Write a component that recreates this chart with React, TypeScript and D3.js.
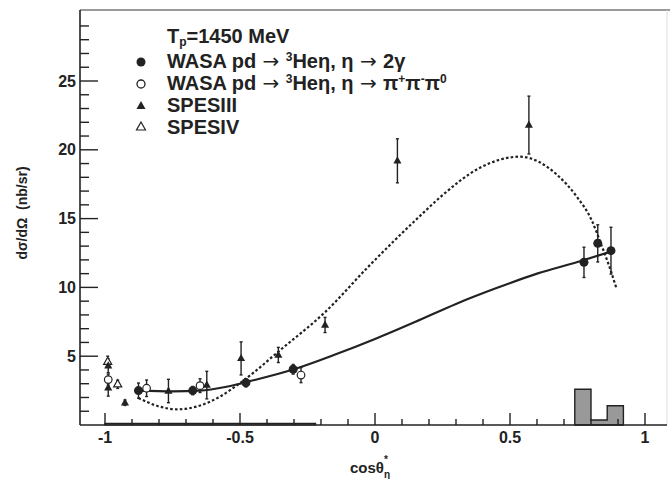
import * as d3 from 'd3';

// WASA pd -> 3He eta, eta -> 2 gamma (filled circles)
const wasa2g: [number, number, number][] = [
  [-0.876, 2.5, 0.55],
  [-0.675, 2.5, 0.3],
  [-0.478, 3.07, 0.3],
  [-0.303, 4.05, 0.35],
  [0.774, 11.82, 1.1],
  [0.825, 13.2, 1.35],
  [0.874, 12.67, 1.7],
];
// WASA pd -> 3He eta, eta -> pi+ pi- pi0 (open circles)
const wasa3pi: [number, number, number][] = [
  [-0.846, 2.67, 0.6],
  [-0.648, 2.86, 0.5],
  [-0.274, 3.63, 0.55],
  [-0.988, 3.3, 0.4],
];
// SPESIII (filled triangles)
const spes3: [number, number, number][] = [
  [-0.988, 4.3, 0.5],
  [-0.988, 2.7, 0.6],
  [-0.926, 1.62, 0.2],
  [-0.765, 2.47, 0.85],
  [-0.623, 2.9, 1.0],
  [-0.496, 4.84, 1.2],
  [-0.358, 5.09, 0.55],
  [-0.185, 7.27, 0.55],
  [0.083, 19.2, 1.6],
  [0.57, 21.8, 2.1],
];
// SPESIV (open triangles)
const spes4: [number, number, number][] = [
  [-0.99, 4.6, 0.4],
  [-0.953, 2.96, 0.3],
];

// fit curves
const solidFit: [number, number][] = [
  [-0.876, 2.5], [-0.75, 2.45], [-0.65, 2.5], [-0.55, 2.78], [-0.45, 3.25],
  [-0.3, 4.05], [-0.15, 5.1], [0.0, 6.25], [0.15, 7.5], [0.3, 8.8],
  [0.45, 9.95], [0.6, 11.0], [0.75, 11.85], [0.874, 12.6],
];
const dashedFit: [number, number][] = [
  [-0.876, 1.96], [-0.8, 1.35], [-0.734, 1.14], [-0.65, 1.4], [-0.58, 2.0],
  [-0.51, 2.9], [-0.45, 3.8], [-0.36, 5.3], [-0.185, 8.2], [-0.02, 11.6],
  [0.167, 15.2], [0.25, 16.7], [0.389, 18.7], [0.537, 19.5], [0.673, 18.2],
  [0.747, 16.6], [0.802, 14.9], [0.84, 13.0], [0.87, 11.4], [0.893, 10.0],
];

// histogram (bin width 0.06)
const histEdges = [-1, -0.94, -0.88, -0.82, -0.76, -0.7, -0.64, -0.58, -0.52, -0.46, -0.4, -0.34, -0.28, -0.22];
const histLow = [0.12, 0.12, 0.12, 0.12, 0.12, 0.12, 0.12, 0.12, 0.12, 0.12, 0.12, 0.12, 0.12];
const histHighEdges = [0.74, 0.8, 0.86, 0.92];
const histHigh = [2.6, 0.36, 1.4];

const xMajor = [-1, -0.5, 0, 0.5, 1];
const xMajorLabels = ['-1', '-0.5', '0', '0.5', '1'];
const yMajor = [5, 10, 15, 20, 25];

const W = 670;
const H = 479;
const frame = { left: 80, right: 667, top: 10, bottom: 425 };
const FONT = '"Liberation Sans", Arial, sans-serif';
const ARROW_FONT = '"DejaVu Sans", sans-serif';
const INK = '#222';

export default function App() {
  const x = d3.scaleLinear().domain([-1, 1]).range([105, 645]);
  const y = d3.scaleLinear().domain([0, 30]).range([frame.bottom, frame.bottom - 13.76 * 30]);

  const xMinor = d3.range(-10, 11).map(i => i / 10).filter(v => !xMajor.some(m => Math.abs(m - v) < 1e-6));
  const yMinor = d3.range(1, 30).filter(v => v % 5 !== 0);

  const line = d3.line<[number, number]>()
    .x(d => x(d[0]))
    .y(d => y(d[1]))
    .curve(d3.curveMonotoneX);

  const histBars = [
    ...histLow.map((v, i) => ({ x0: histEdges[i], x1: histEdges[i + 1], v })),
    ...histHigh.map((v, i) => ({ x0: histHighEdges[i], x1: histHighEdges[i + 1], v })),
  ];
  const histPath = (bars: { x0: number; x1: number; v: number }[]) => {
    let p = `M${x(bars[0].x0)},${y(0)}`;
    bars.forEach(b => {
      p += `L${x(b.x0)},${y(b.v)}L${x(b.x1)},${y(b.v)}`;
    });
    p += `L${x(bars[bars.length - 1].x1)},${y(0)}Z`;
    return p;
  };

  const errBar = (d: [number, number, number], k: string) => (
    <g key={k} stroke={INK} strokeWidth={1.4}>
      <line x1={x(d[0])} x2={x(d[0])} y1={y(d[1] - d[2])} y2={y(d[1] + d[2])} />
      <line x1={x(d[0]) - 1.5} x2={x(d[0]) + 1.5} y1={y(d[1] - d[2])} y2={y(d[1] - d[2])} />
      <line x1={x(d[0]) - 1.5} x2={x(d[0]) + 1.5} y1={y(d[1] + d[2])} y2={y(d[1] + d[2])} />
    </g>
  );
  const tri = (cx: number, cy: number, s: number) =>
    `M${cx},${cy - s}L${cx + s * 0.9},${cy + s * 0.6}L${cx - s * 0.9},${cy + s * 0.6}Z`;

  const arrow = <tspan fontFamily={ARROW_FONT} fontWeight="normal" fill={INK}>{'\u00a0→\u00a0'}</tspan>;

  return (
    <svg width={W} height={H} style={{ display: 'block', position: 'absolute', left: 0, top: 0, background: '#fff' }}
      fontFamily={FONT} fontWeight="bold">
      {/* frame */}
      <line x1={frame.left} x2={W} y1={frame.top} y2={frame.top} stroke="#999" strokeWidth={2} />
      <line x1={frame.right} x2={frame.right} y1={frame.top} y2={frame.bottom} stroke="#ddd" strokeWidth={1} />

      {/* histogram */}
      <path d={histPath(histBars.slice(0, histLow.length))} fill="#999" stroke={INK} strokeWidth={1.2} />
      <path d={histPath(histBars.slice(histLow.length))} fill="#999" stroke={INK} strokeWidth={1.4} />

      {/* axes */}
      <line x1={frame.left} x2={frame.right} y1={frame.bottom} y2={frame.bottom} stroke={INK} strokeWidth={1.6} />
      <line x1={frame.left} x2={frame.left} y1={frame.top} y2={frame.bottom} stroke={INK} strokeWidth={1.6} />
      {xMajor.map(v => (
        <line key={`xm${v}`} x1={x(v)} x2={x(v)} y1={frame.bottom} y2={frame.bottom - 12} stroke={INK} strokeWidth={1.4} />
      ))}
      {xMinor.map(v => (
        <line key={`xn${v}`} x1={x(v)} x2={x(v)} y1={frame.bottom} y2={frame.bottom - 6} stroke={INK} strokeWidth={1.4} />
      ))}
      {yMajor.map(v => (
        <line key={`ym${v}`} x1={frame.left} x2={frame.left + 18} y1={y(v)} y2={y(v)} stroke={INK} strokeWidth={1.4} />
      ))}
      {yMinor.map(v => (
        <line key={`yn${v}`} x1={frame.left} x2={frame.left + 9} y1={y(v)} y2={y(v)} stroke={INK} strokeWidth={1.4} />
      ))}
      {xMajor.map((v, i) => (
        <text key={`xl${v}`} x={x(v)} y={443} textAnchor="middle" fontSize={16} fill={INK}>{xMajorLabels[i]}</text>
      ))}
      {yMajor.map(v => (
        <text key={`yl${v}`} x={76} y={y(v) + 5.5} textAnchor="end" fontSize={16} fill={INK}>{v}</text>
      ))}

      {/* axis titles */}
      <text x={350} y={473} fontSize={15} fill={INK}>
        cosθ<tspan dy={5} fontSize={10}>η</tspan><tspan dx={-6} dy={-15} fontSize={10}>*</tspan>
      </text>
      <text transform="translate(27,213) rotate(-90)" textAnchor="middle" fontSize={14} fill={INK}>
        {'dσ/dΩ\u00a0\u00a0(nb/sr)'}
      </text>

      {/* fits */}
      <path d={line(dashedFit) || ''} fill="none" stroke={INK} strokeWidth={2.2} strokeDasharray="2.6,2.2" />
      <path d={line(solidFit) || ''} fill="none" stroke={INK} strokeWidth={2.2} />

      {/* data */}
      {spes4.map((d, i) => errBar(d, `e4${i}`))}
      {spes3.map((d, i) => errBar(d, `e3${i}`))}
      {wasa3pi.map((d, i) => errBar(d, `ep${i}`))}
      {wasa2g.map((d, i) => errBar(d, `eg${i}`))}
      {spes4.map((d, i) => (
        <path key={`s4${i}`} d={tri(x(d[0]), y(d[1]), 4.5)} fill="#fff" stroke={INK} strokeWidth={1.2} />
      ))}
      {spes3.map((d, i) => (
        <path key={`s3${i}`} d={tri(x(d[0]), y(d[1]), 4.5)} fill={INK} />
      ))}
      {wasa3pi.map((d, i) => (
        <circle key={`wp${i}`} cx={x(d[0])} cy={y(d[1])} r={3.8} fill="#fff" stroke={INK} strokeWidth={1.2} />
      ))}
      {wasa2g.map((d, i) => (
        <circle key={`wg${i}`} cx={x(d[0])} cy={y(d[1])} r={4.5} fill={INK} />
      ))}

      {/* legend */}
      <g fontSize={20} fill={INK}>
        <text x={167} y={43}>T<tspan dy={3} fontSize={12}>p</tspan><tspan dy={-3}>=1450 MeV</tspan></text>
        <circle cx={141} cy={62} r={4.5} fill={INK} />
        <text x={167} y={68}>WASA pd{arrow}<tspan dy={-7} fontSize={12}>3</tspan><tspan dy={7}>Heη, η</tspan>{arrow}<tspan>2γ</tspan></text>
        <circle cx={141} cy={84} r={4} fill="#fff" stroke={INK} strokeWidth={1.3} />
        <text x={167} y={90}>WASA pd{arrow}<tspan dy={-7} fontSize={12}>3</tspan><tspan dy={7}>Heη, η</tspan>{arrow}<tspan>π</tspan><tspan dy={-7} fontSize={12}>+</tspan><tspan dy={7}>π</tspan><tspan dy={-7} fontSize={12}>-</tspan><tspan dy={7}>π</tspan><tspan dy={-7} fontSize={12}>0</tspan></text>
        <path d={tri(141, 106, 5)} fill={INK} />
        <text x={167} y={112}>SPESIII</text>
        <path d={tri(141, 127, 5)} fill="#fff" stroke={INK} strokeWidth={1.2} />
        <text x={167} y={134}>SPESIV</text>
      </g>
    </svg>
  );
}
